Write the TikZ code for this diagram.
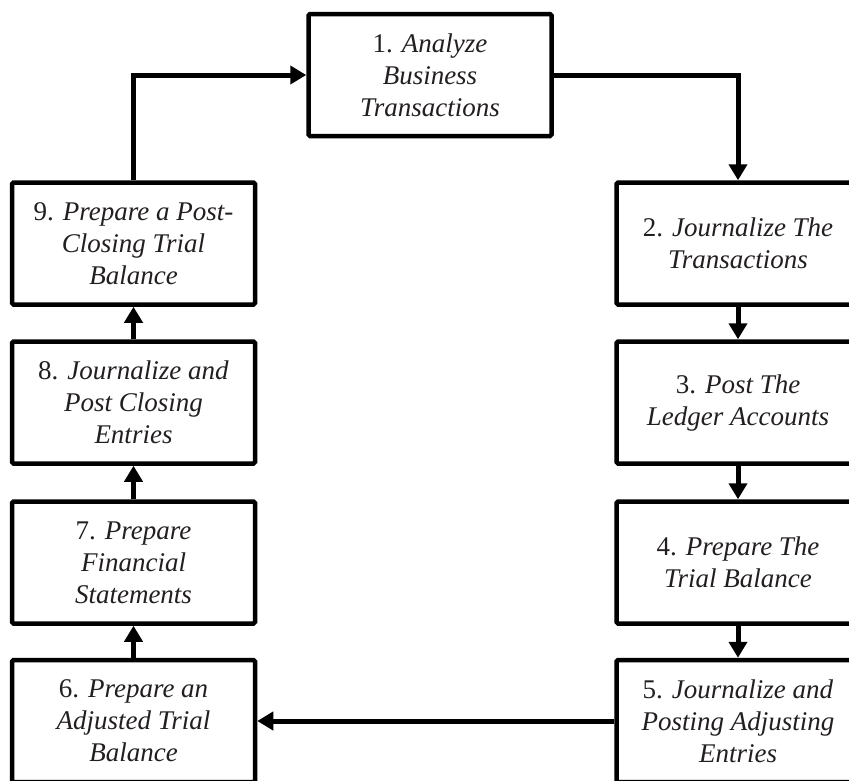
\documentclass[tikz,border=0pt]{standalone}
\usepackage{fontspec}
\setmainfont{Liberation Serif}
\usetikzlibrary{arrows.meta}
\definecolor{txt}{HTML}{231F20}
\tikzset{
  box/.style={draw=black, line width=4.5pt, rounded corners=1.5pt, fill=white,
    minimum width=243pt, minimum height=122pt, align=center, text=txt,
    font=\fontsize{27}{32}\selectfont, inner sep=0pt},
  conn/.style={line width=5pt, -{Triangle[length=16pt,width=18pt]}}
}
\begin{document}
\begin{tikzpicture}[x=1pt,y=-1pt]
\useasboundingbox (0,0) rectangle (849,780);
\clip (0,0) rectangle (849,780);
\node[box] (n1) at (430,75) {1. \textit{Analyze}\\\textit{Business}\\\textit{Transactions}};
\node[box] (n2) at (738,243.5) {2. \textit{Journalize The}\\\textit{Transactions}};
\node[box] (n3) at (738,402.5) {3. \textit{Post The}\\\textit{Ledger Accounts}};
\node[box] (n4) at (738,562.5) {4. \textit{Prepare The}\\\textit{Trial Balance}};
\node[box] (n5) at (738,721) {5. \textit{Journalize and}\\\textit{Posting Adjusting}\\\textit{Entries}};
\node[box] (n6) at (133.5,721) {6. \textit{Prepare an}\\\textit{Adjusted Trial}\\\textit{Balance}};
\node[box] (n7) at (133.5,562.5) {7. \textit{Prepare}\\\textit{Financial}\\\textit{Statements}};
\node[box] (n8) at (133.5,402.5) {8. \textit{Journalize and}\\\textit{Post Closing}\\\textit{Entries}};
\node[box] (n9) at (133.5,243.5) {9. \textit{Prepare a Post-}\\\textit{Closing Trial}\\\textit{Balance}};
\draw[conn] (n9.north) |- (n1.west);
\draw[conn] (n1.east) -| (n2.north);
\draw[conn] (n2.south) -- (n3.north);
\draw[conn] (n3.south) -- (n4.north);
\draw[conn] (n4.south) -- (n5.north);
\draw[conn] (n5.west) -- (n6.east);
\draw[conn] (n6.north) -- (n7.south);
\draw[conn] (n7.north) -- (n8.south);
\draw[conn] (n8.north) -- (n9.south);
\end{tikzpicture}
\end{document}
